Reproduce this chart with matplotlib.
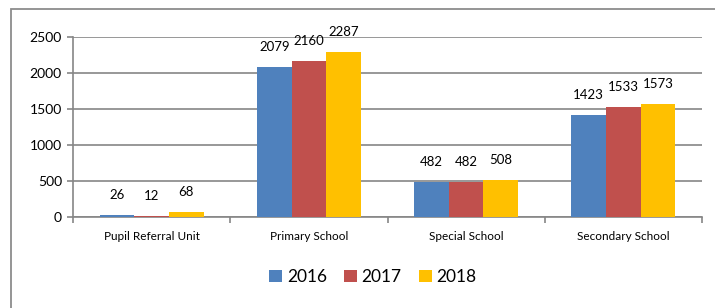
import matplotlib
matplotlib.use("Agg")
import matplotlib.pyplot as plt
import numpy as np
from matplotlib.patches import Rectangle

categories = ["Pupil Referral Unit", "Primary School", "Special School", "Secondary School"]
series_names = ["2016", "2017", "2018"]
values_2016 = [26, 2079, 482, 1423]
values_2017 = [12, 2160, 482, 1533]
values_2018 = [68, 2287, 508, 1573]
colors = ["#4F81BD", "#C0504D", "#FFC000"]
yticks = [0, 500, 1000, 1500, 2000, 2500]

plt.rcParams['font.family'] = ['Lato', 'DejaVu Sans']

W, H = 715, 308
fig = plt.figure(figsize=(W / 100, H / 100), dpi=100)
ax = fig.add_axes([73 / W, 1 - 217 / H, (702 - 73) / W, (217 - 37) / H])

# outer border
fig.patches.append(Rectangle((11.5 / W, -0.1), 1.2, (H - 9) / H + 0.1, transform=fig.transFigure,
                             fill=False, edgecolor="#8c8c8c", linewidth=1.3, zorder=0))

x = np.arange(len(categories))
bw = 0.22
series = [values_2016, values_2017, values_2018]
for i, (vals, name, c) in enumerate(zip(series, series_names, colors)):
    pos = x + (i - 1) * bw
    ax.bar(pos, vals, width=bw, color=c, label=name, zorder=3, linewidth=0)
    for p, v in zip(pos, vals):
        ax.annotate(str(v), (p, v), xytext=(0, 14.4), textcoords="offset points",
                    ha="center", va="center", fontsize=9.5, color="black")

ax.set_xlim(-0.5, len(categories) - 0.5)
ax.set_ylim(0, 2500)
ax.set_yticks(yticks)
ax.set_yticklabels([str(t) for t in yticks], fontsize=10)
ax.yaxis.grid(True, color="#868686", linewidth=1.2, zorder=0)
ax.set_axisbelow(True)

ax.set_xticks(x)
ax.set_xticklabels(categories, fontsize=8.5)
ax.tick_params(axis="x", length=0, pad=10)
ax.set_xticks(np.arange(len(categories) + 1) - 0.5, minor=True)
ax.tick_params(axis="x", which="minor", length=4, color="#868686", width=1.2)
ax.tick_params(axis="y", length=4, color="#868686", width=1.2, pad=4)

for s in ["top", "right"]:
    ax.spines[s].set_visible(False)
for s in ["left", "bottom"]:
    ax.spines[s].set_color("#868686")
    ax.spines[s].set_linewidth(1.2)

fig.legend(loc="center", bbox_to_anchor=(373 / W, 1 - 277 / H), ncol=3, frameon=False,
           fontsize=12.5, handlelength=0.75, handleheight=0.75, handletextpad=0.25,
           columnspacing=1.0, borderpad=0)

fig.savefig("out.png", dpi=100)
